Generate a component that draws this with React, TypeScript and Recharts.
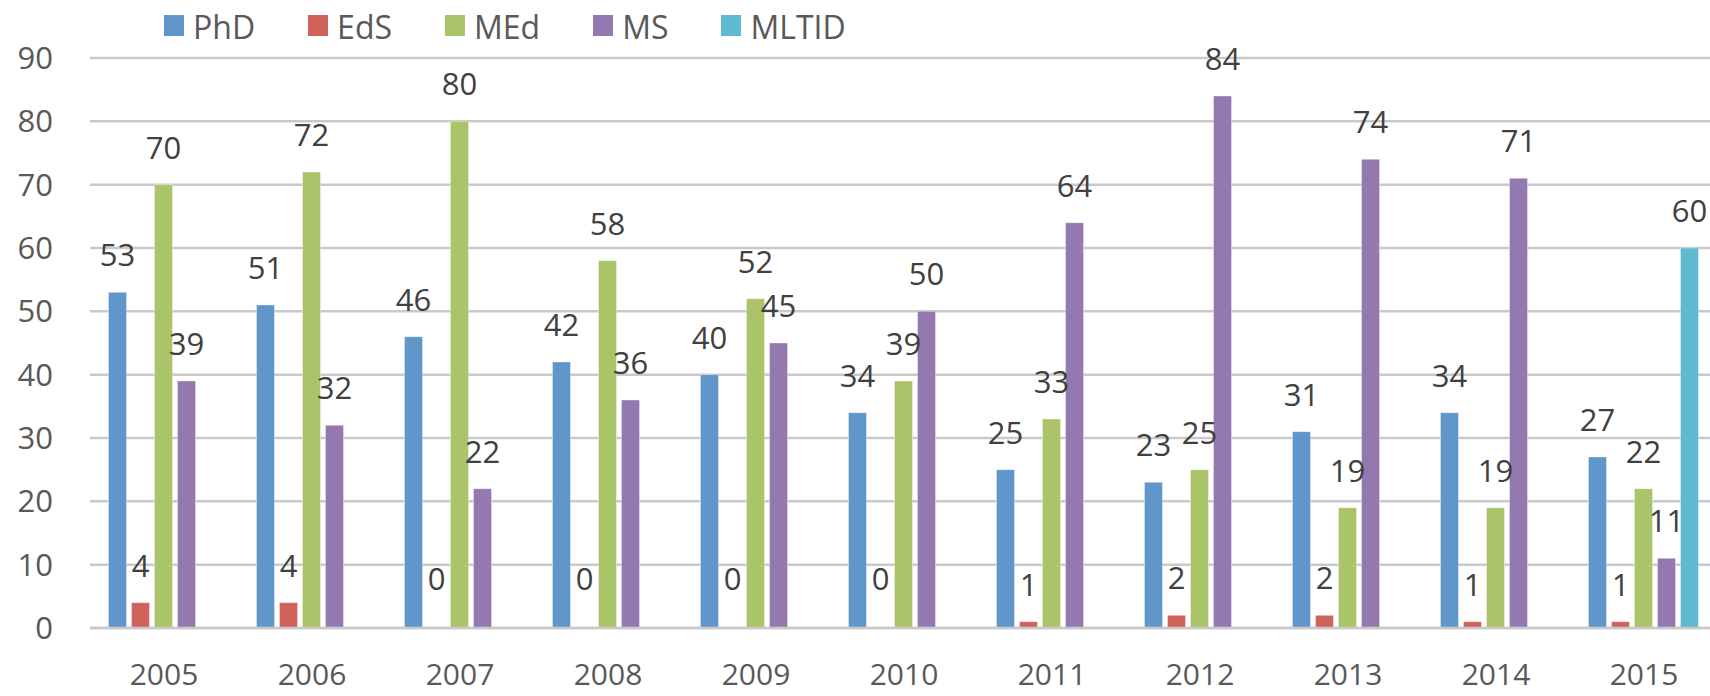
import React from 'react';
import { BarChart, Bar, XAxis, YAxis, CartesianGrid, Legend, LabelList } from 'recharts';

const years = ['2005', '2006', '2007', '2008', '2009', '2010', '2011', '2012', '2013', '2014', '2015'];
const phd = [53, 51, 46, 42, 40, 34, 25, 23, 31, 34, 27];
const eds = [4, 4, 0, 0, 0, 0, 1, 2, 2, 1, 1];
const med = [70, 72, 80, 58, 52, 39, 33, 25, 19, 19, 22];
const ms = [39, 32, 22, 36, 45, 50, 64, 84, 74, 71, 11];
const mltid: (number | null)[] = [null, null, null, null, null, null, null, null, null, null, 60];
const yTicks = [0, 10, 20, 30, 40, 50, 60, 70, 80, 90];

const data = years.map((y, i) => ({
  year: y,
  PhD: phd[i],
  EdS: eds[i],
  MEd: med[i],
  MS: ms[i],
  MLTID: mltid[i],
}));

const series = [
  { key: 'PhD', color: '#6196CB' },
  { key: 'EdS', color: '#D0625C' },
  { key: 'MEd', color: '#ABC46A' },
  { key: 'MS', color: '#9479B1' },
  { key: 'MLTID', color: '#5DBAD1' },
];

const FONT = "'Open Sans', sans-serif";

const renderLegend = (props: any) => {
  const payload = props.payload || [];
  const ordered = series
    .map((s) => payload.find((p: any) => p.dataKey === s.key || p.value === s.key))
    .filter(Boolean);
  return (
    <div style={{ height: 48, position: 'relative', fontFamily: FONT }}>
      <div
        style={{
          position: 'absolute',
          left: 164,
          top: 1,
          height: 48,
          display: 'flex',
          alignItems: 'center',
          whiteSpace: 'nowrap',
        }}
      >
        {ordered.map((entry: any, i: number) => (
          <div key={i} style={{ display: 'flex', alignItems: 'center', marginRight: 53 }}>
            <span
              style={{
                width: 20,
                height: 21,
                background: entry.color,
                display: 'inline-block',
                marginRight: 9,
              }}
            />
            <span style={{ fontSize: 32, color: '#595959', lineHeight: '48px', paddingTop: 3 }}>{entry.value}</span>
          </div>
        ))}
      </div>
    </div>
  );
};

const renderValueLabel = (p: any) => {
  const { x, y, width, value } = p;
  if (value === null || value === undefined) return null;
  const cx = Number(x) + Number(width) / 2;
  const off = value === 0 ? 38 : 26;
  return (
    <text x={cx} y={Number(y) - off} textAnchor="middle" fill="#404040" fontSize={31} fontFamily={FONT}>
      {value}
    </text>
  );
};

const minSize = (value: any) => (value === 0 ? 0.01 : 0);

export default function App() {
  return (
    <div style={{ position: 'absolute', left: 0, top: 0, width: 1710, height: 696, overflow: 'hidden', background: '#fff' }}>
      <BarChart
        width={1718}
        height={696}
        data={data}
        margin={{ top: 10, right: 0, bottom: 0, left: 0 }}
        barCategoryGap={18.5}
        barGap={5}
        style={{ fontFamily: FONT }}
      >
        <CartesianGrid horizontal vertical={false} stroke="#C9C9C9" strokeWidth={2.5} />
        <XAxis
          dataKey="year"
          axisLine={{ stroke: '#C9C9C9', strokeWidth: 2.5 }}
          tickLine={false}
          tickSize={0}
          tickMargin={36}
          height={68}
          tick={{ fill: '#595959', fontSize: 30, fontFamily: FONT }}
          interval={0}
        />
        <YAxis
          width={90}
          domain={[0, 90]}
          ticks={yTicks}
          axisLine={false}
          tickLine={false}
          tickSize={0}
          tickMargin={37}
          tick={{ fill: '#595959', fontSize: 31, fontFamily: FONT }}
          interval={0}
        />
        <Legend verticalAlign="top" align="left" content={renderLegend} wrapperStyle={{ top: 0, left: 0, width: 1718 }} />
        {series.map((s) => (
          <Bar
            key={s.key}
            dataKey={s.key}
            name={s.key}
            fill={s.color}
            stroke="#ffffff"
            strokeOpacity={0.35}
            strokeWidth={1}
            minPointSize={minSize}
            isAnimationActive={false}
          >
            <LabelList dataKey={s.key} content={renderValueLabel} />
          </Bar>
        ))}
      </BarChart>
    </div>
  );
}
